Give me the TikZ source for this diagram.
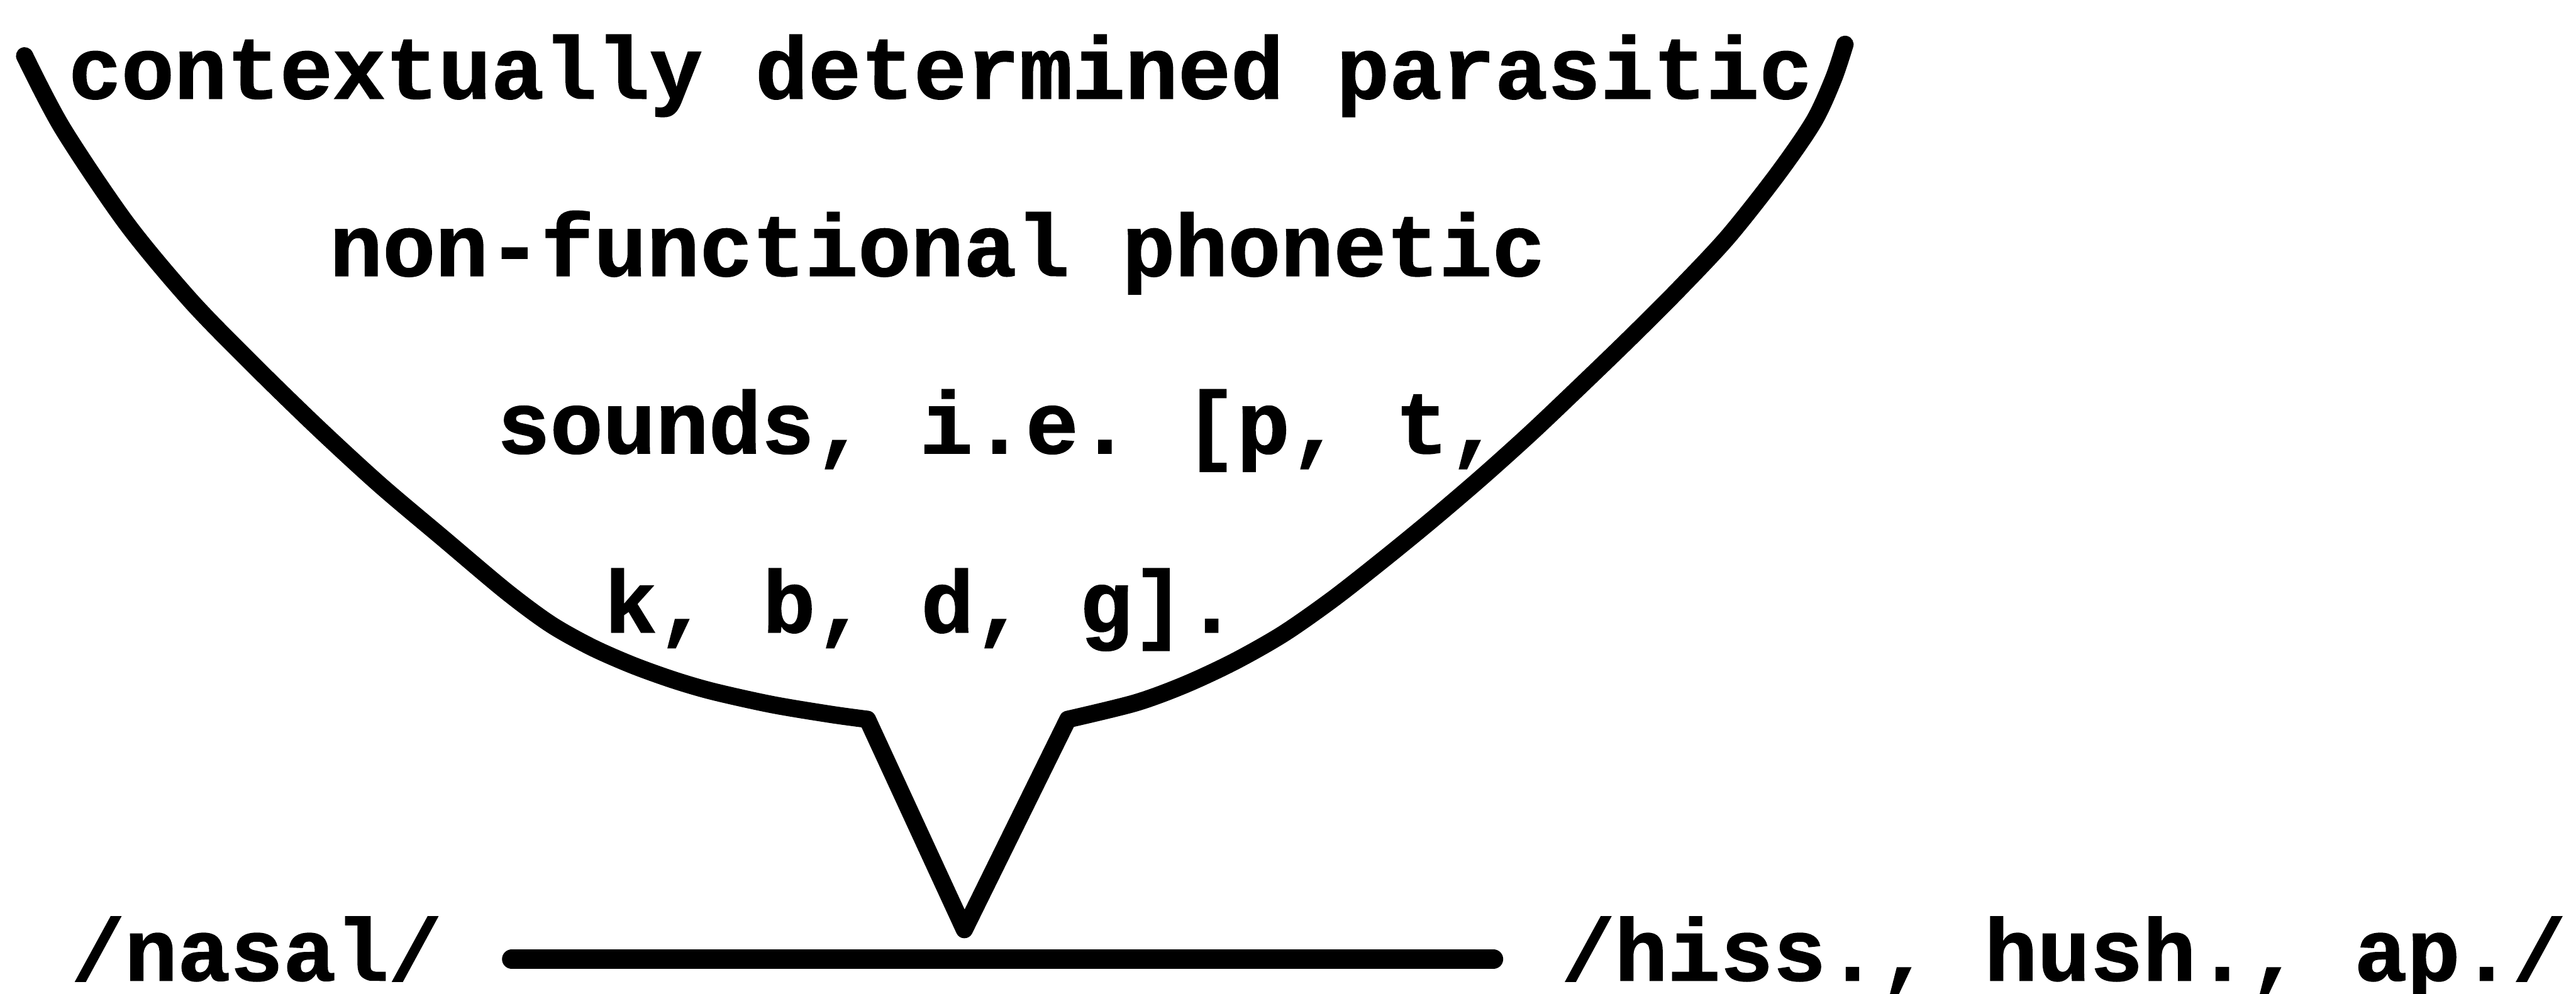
\documentclass[tikz,border=0pt]{standalone}
\usepackage{fontspec}
\setmonofont{Liberation Mono}[BoldFeatures={FakeBold=1.2}]

\begin{document}
\begin{tikzpicture}[
  x=0.1mm,y=-0.1mm,
  typed/.style={font=\fontsize{15.25}{18}\selectfont\ttfamily\bfseries,
    inner sep=0pt,anchor=base west},
  funnel/.style={line width=3pt,line join=round,line cap=round},
  bar/.style={line width=3.4pt,line cap=round}
]
\useasboundingbox (0,0) rectangle (1568,605);
\node[typed] (l1) at (41,60) {contextually determined parasitic};
\node[typed] (l2) at (200,168) {non-functional phonetic};
\node[typed] (l3) at (302,276) {sounds, i.e. [p, t,};
\node[typed] (l4) at (367,385) {k, b, d, g].};
\node[typed] (nasal) at (43,597) {/nasal/};
\node[typed] (hiss) at (950,597) {/hiss., hush., ap./};
\coordinate (tip) at (587,566);
\draw[funnel] plot[smooth,tension=0.5] coordinates {(15,34) (38,78) (77,136)
    (116,183) (154,222) (193,260) (231,295) (270,328) (308,360) (335,380)
    (360,394) (385,405) (410,414) (434,421) (470,429) (506,435) (528,438)}
  -- (tip) -- (650,438)
  -- plot[smooth,tension=0.5] coordinates {(650,438) (691,428) (721,417)
    (751,403) (781,386) (811,365) (841,341.5) (871,317) (902,290.5)
    (932,263.5) (962,235) (992,206) (1022,176) (1052,144) (1082,106)
    (1104,74) (1116,48) (1123,27)};
\draw[bar] ([xshift=4.2mm,yshift=1.3mm]nasal.base east)
  -- ([xshift=-4.1mm,yshift=1.3mm]hiss.base west);
\end{tikzpicture}
\end{document}
